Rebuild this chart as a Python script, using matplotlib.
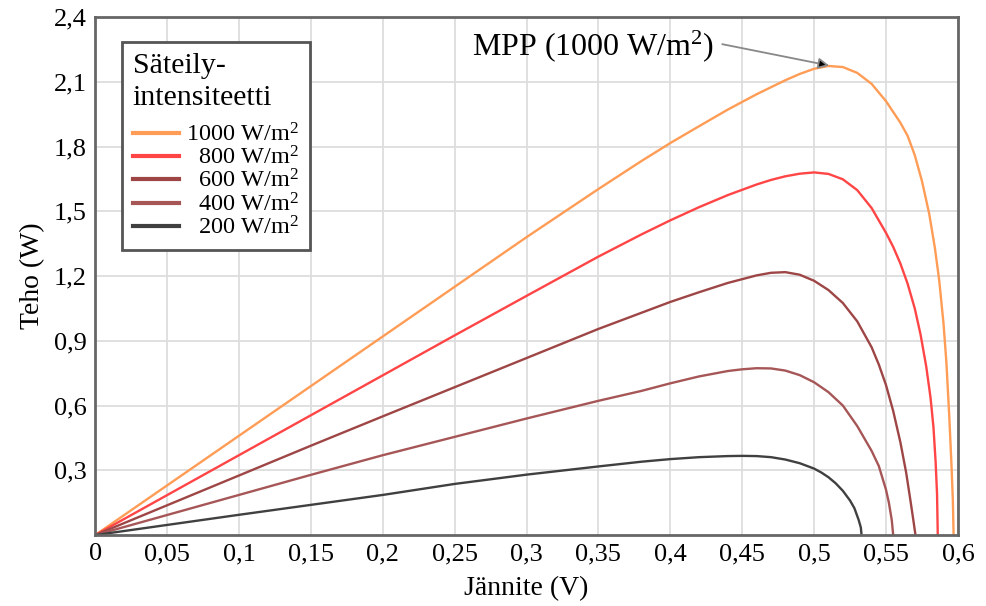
import matplotlib
matplotlib.use('Agg')
import matplotlib.pyplot as plt
from matplotlib.ticker import FuncFormatter

plt.rcParams['font.family'] = ['Liberation Serif', 'DejaVu Serif']
plt.rcParams['mathtext.fontset'] = 'custom'
plt.rcParams['mathtext.rm'] = 'Liberation Serif'

# luettu kuvasta: jännite (V) ja teho (W)
v_1000 = [0, 0.05, 0.1, 0.15, 0.2, 0.25, 0.3, 0.35, 0.38, 0.4, 0.42, 0.44, 0.46, 0.48, 0.49,
          0.5, 0.51, 0.52, 0.53, 0.54, 0.55, 0.56, 0.565, 0.57, 0.575, 0.58, 0.584, 0.587,
          0.59, 0.592, 0.594, 0.5955, 0.5965, 0.597]
p_1000 = [0, 0.23, 0.46, 0.69, 0.92, 1.15, 1.38, 1.603, 1.733, 1.816, 1.894, 1.971, 2.042, 2.107,
          2.136, 2.16, 2.173, 2.168, 2.141, 2.09, 2.01, 1.91, 1.85, 1.76, 1.64, 1.49, 1.33, 1.18,
          0.98, 0.80, 0.55, 0.33, 0.16, 0]

v_800 = [0, 0.05, 0.1, 0.15, 0.2, 0.25, 0.3, 0.35, 0.38, 0.4, 0.42, 0.44, 0.46, 0.47, 0.48,
         0.49, 0.5, 0.51, 0.52, 0.53, 0.54, 0.55, 0.555, 0.56, 0.565, 0.57, 0.574, 0.578,
         0.581, 0.583, 0.5845, 0.5855, 0.586]
p_800 = [0, 0.185, 0.37, 0.555, 0.74, 0.925, 1.108, 1.29, 1.393, 1.458, 1.519, 1.575, 1.624, 1.645,
         1.662, 1.674, 1.68, 1.673, 1.648, 1.598, 1.515, 1.40, 1.335, 1.258, 1.165, 1.05, 0.93,
         0.78, 0.635, 0.50, 0.34, 0.19, 0]

v_600 = [0, 0.05, 0.1, 0.15, 0.2, 0.25, 0.3, 0.35, 0.38, 0.4, 0.42, 0.44, 0.46, 0.47, 0.48,
         0.49, 0.5, 0.51, 0.52, 0.53, 0.54, 0.545, 0.55, 0.555, 0.56, 0.564, 0.567, 0.569, 0.5705]
p_600 = [0, 0.138, 0.276, 0.414, 0.55, 0.685, 0.82, 0.955, 1.03, 1.08, 1.125, 1.168, 1.203, 1.215,
         1.218, 1.206, 1.178, 1.135, 1.075, 0.99, 0.87, 0.79, 0.695, 0.575, 0.43, 0.29, 0.16,
         0.07, 0]

v_400 = [0, 0.05, 0.1, 0.15, 0.2, 0.25, 0.3, 0.35, 0.38, 0.4, 0.42, 0.44, 0.45, 0.46, 0.47,
         0.48, 0.49, 0.5, 0.51, 0.52, 0.53, 0.54, 0.545, 0.55, 0.552, 0.554, 0.555]
p_400 = [0, 0.093, 0.186, 0.279, 0.37, 0.455, 0.54, 0.622, 0.668, 0.703, 0.735, 0.76, 0.768, 0.773,
         0.772, 0.762, 0.741, 0.708, 0.662, 0.60, 0.505, 0.39, 0.32, 0.21, 0.15, 0.07, 0]

v_200 = [0, 0.05, 0.1, 0.15, 0.2, 0.25, 0.3, 0.35, 0.38, 0.4, 0.42, 0.44, 0.45, 0.46, 0.47,
         0.48, 0.49, 0.5, 0.505, 0.51, 0.515, 0.52, 0.525, 0.528, 0.531, 0.5325, 0.533]
p_200 = [0, 0.047, 0.094, 0.14, 0.186, 0.237, 0.28, 0.318, 0.34, 0.352, 0.361, 0.366, 0.367, 0.366,
         0.361, 0.35, 0.333, 0.308, 0.29, 0.268, 0.24, 0.205, 0.16, 0.125, 0.07, 0.035, 0]

labels = ['1000 W/m$\\mathregular{^2}$', '  800 W/m$\\mathregular{^2}$', '  600 W/m$\\mathregular{^2}$',
          '  400 W/m$\\mathregular{^2}$', '  200 W/m$\\mathregular{^2}$']
colors = ['#FF9C55', '#FF4545', '#9E4646', '#A65656', '#404040']

x_ticks = [0, 0.05, 0.1, 0.15, 0.2, 0.25, 0.3, 0.35, 0.4, 0.45, 0.5, 0.55, 0.6]
y_ticks = [0.3, 0.6, 0.9, 1.2, 1.5, 1.8, 2.1, 2.4]

fig = plt.figure(figsize=(9.86, 6.06), dpi=100)
ax = fig.add_axes([0.0965, 0.117, 0.875, 0.855])

curves = [(v_1000, p_1000), (v_800, p_800), (v_600, p_600), (v_400, p_400), (v_200, p_200)]
for (v, p), c, lab in zip(curves, colors, labels):
    ax.plot(v, p, color=c, lw=1.7, label=lab, solid_joinstyle='round')

ax.set_xlim(0, 0.6)
ax.set_ylim(0, 2.4)
ax.set_xticks(x_ticks)
ax.set_yticks(y_ticks)


def comma(x, pos):
    if x == 0:
        return '0'
    return ('%g' % round(x, 2)).replace('.', ',')


ax.xaxis.set_major_formatter(FuncFormatter(comma))
ax.yaxis.set_major_formatter(FuncFormatter(comma))
ax.tick_params(length=0, labelsize=19, pad=6)
ax.grid(True, color='#DDDDDD', lw=1.3)
ax.set_axisbelow(True)
for s in ax.spines.values():
    s.set_color('#666666')
    s.set_linewidth(2)

ax.set_xlabel('Jännite (V)', fontsize=20, labelpad=8)
ax.set_ylabel('Teho (W)', fontsize=20, labelpad=6)

leg = ax.legend(title='Säteily-\nintensiteetti', loc='upper left', bbox_to_anchor=(0.031, 0.952),
                borderaxespad=0, fontsize=17.5, title_fontsize=21.5, fancybox=False, framealpha=1,
                edgecolor='#555555', handlelength=1.9, handletextpad=0.3, labelspacing=0.0,
                borderpad=0.45, alignment='left')
leg.get_title().set_linespacing(1.3)
leg._legend_box.sep = 9
leg.get_frame().set_linewidth(2)
for line in leg.get_lines():
    line.set_linewidth(3)

ax.annotate('MPP (1000 W/m$\\mathregular{^2}$)', xy=(0.5105, 2.175), xytext=(0.262, 2.265),
            fontsize=23, ha='left', va='center',
            arrowprops=dict(arrowstyle='-|>', ec='#888888', fc='black', lw=1.3,
                            mutation_scale=16, relpos=(1.0, 0.6), shrinkA=4, shrinkB=0))

fig.savefig('out.png', dpi=100)
